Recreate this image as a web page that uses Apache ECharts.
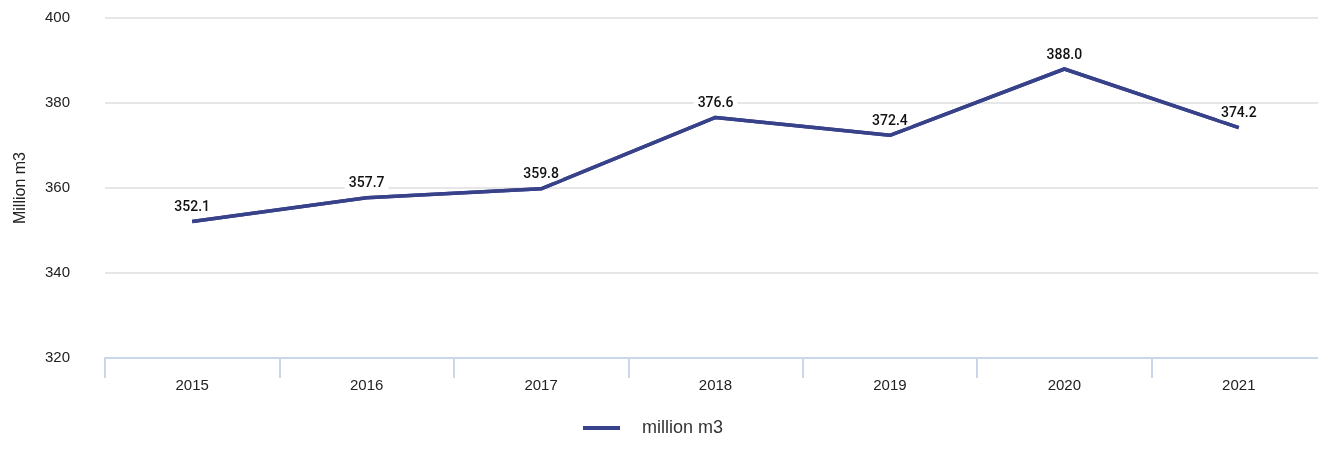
<!DOCTYPE html>
<html>
<head>
<meta charset="utf-8">
<script src="https://cdn.jsdelivr.net/npm/echarts@6/dist/echarts.min.js"></script>
<style>
  html, body { margin: 0; padding: 0; background: #fff; }
  #chart { width: 1318px; height: 455px; }
</style>
</head>
<body>
<div id="chart"></div>
<script>
// Yearly volume, million m3
const years = ['2015', '2016', '2017', '2018', '2019', '2020', '2021'];
const volumes = [352.1, 357.7, 359.8, 376.6, 372.4, 388.0, 374.2];
const seriesName = 'million m3';
const yAxisTitle = 'Million m3';

const lineColor = '#37428a';

const chart = echarts.init(document.getElementById('chart'));
chart.setOption({
  animation: false,
  grid: { left: 105, width: 1221, top: 18, height: 340, outerBoundsMode: 'none', containLabel: false },
  legend: {
    data: [seriesName],
    top: 414,
    left: 578,
    itemWidth: 37,
    itemHeight: 4,
    icon: 'rect',
    textStyle: {
      fontFamily: 'Liberation Sans, Arial',
      fontSize: 18,
      color: '#333',
      padding: [0, 0, 0, 17]
    }
  },
  xAxis: {
    type: 'category',
    data: years,
    boundaryGap: true,
    axisLine: { lineStyle: { color: '#ccd6eb', width: 2 } },
    axisTick: { show: true, length: 20, lineStyle: { color: '#ccd6eb', width: 2 } },
    axisLabel: { margin: 20, fontFamily: 'Liberation Sans, Arial', fontSize: 15, color: '#222' }
  },
  yAxis: {
    type: 'value',
    min: 320,
    max: 400,
    interval: 20,
    name: yAxisTitle,
    nameLocation: 'middle',
    nameGap: 76,
    nameTextStyle: { fontFamily: 'Liberation Sans, Arial', fontSize: 16, color: '#222' },
    axisLine: { show: false },
    axisTick: { show: false },
    axisLabel: { margin: 35, fontFamily: 'Liberation Sans, Arial', fontSize: 15, color: '#222' },
    splitLine: { lineStyle: { color: '#e6e6e6', width: 2 } }
  },
  series: [
    {
      // value labels, with a white box that breaks the grid lines behind them
      name: seriesName,
      type: 'line',
      z: 2,
      data: volumes,
      showSymbol: true,
      symbol: 'circle',
      symbolSize: 0,
      lineStyle: { color: lineColor, width: 3.5 },
      itemStyle: { color: lineColor },
      label: {
        show: true,
        position: 'top',
        distance: 7,
        formatter: p => p.value.toFixed(1),
        fontFamily: 'Roboto',
        fontWeight: 500,
        fontSize: 14,
        color: '#111',
        backgroundColor: '#fff',
        padding: [0, 4]
      }
    },
    {
      // the line itself, kept above the label boxes
      name: seriesName,
      type: 'line',
      z: 5,
      data: volumes,
      symbol: 'none',
      lineStyle: { color: lineColor, width: 3.5 },
      itemStyle: { color: lineColor }
    }
  ]
});
</script>
</body>
</html>
